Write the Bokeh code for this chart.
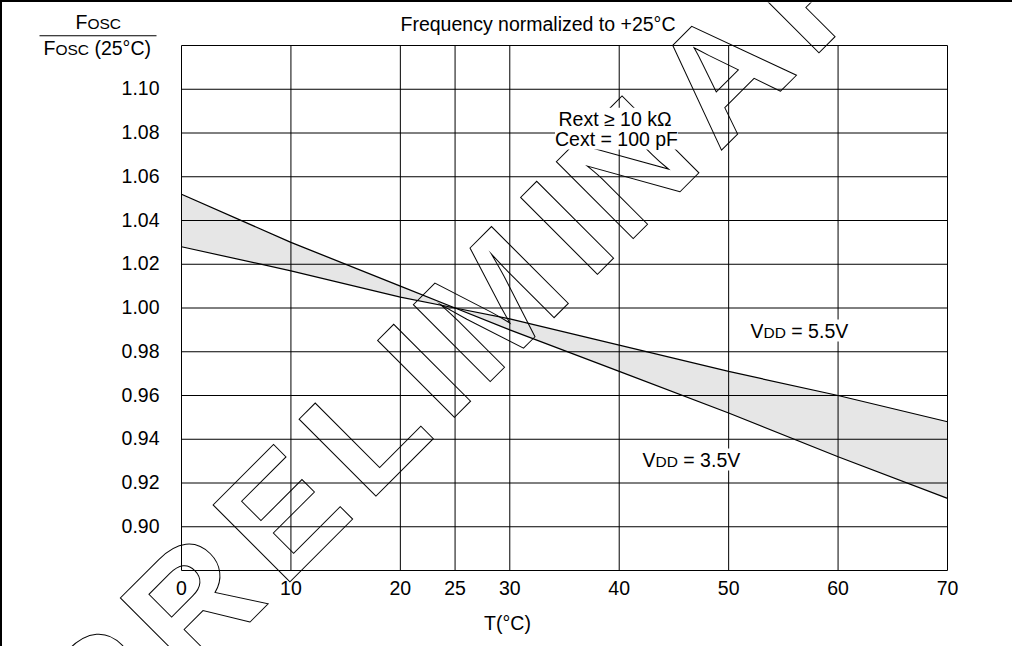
import math
from bokeh.plotting import figure
from bokeh.models import Range1d, Label, BoxAnnotation
from bokeh.core.properties import value
from bokeh.embed import file_html
from bokeh.resources import INLINE

# ---------------- data ----------------
temps = [0, 10, 20, 25, 30, 40, 50, 60, 70]
vdd35 = [1.052, 1.030, 1.010, 1.000, 0.990, 0.971, 0.952, 0.932, 0.913]
vdd55 = [1.028, 1.017, 1.005, 1.000, 0.995, 0.983, 0.971, 0.960, 0.948]
x_ticks = [0, 10, 20, 25, 30, 40, 50, 60, 70]
x_tick_labels = ["0", "10", "20", "25", "30", "40", "50", "60", "70"]
y_ticks = [0.90, 0.92, 0.94, 0.96, 0.98, 1.00, 1.02, 1.04, 1.06, 1.08, 1.10]
y_tick_labels = ["0.90", "0.92", "0.94", "0.96", "0.98", "1.00", "1.02", "1.04",
                 "1.06", "1.08", "1.10"]
y_grid = [0.88] + y_ticks + [1.12]
x_lim = [0, 70]
y_lim = [0.88, 1.12]
title_text = "Frequency normalized to +25°C"
x_label = "T(°C)"
cond_lines = ["Rext ≥ 10 kΩ", "Cext = 100 pF"]
watermark = "PRELIMINARY"

# ---------------- layout ----------------
W, H = 1012, 646
OX, OY = 10, 10                       # page position of the canvas (8px margin + 2px border)
FL, FT, FW, FH = 189, 53, 766, 525    # chart area in page pixels
XMIN, XMAX = x_lim
YMIN, YMAX = y_lim
FONT = "Liberation Sans"
FS = 19.5
BASE_FIX = 8                          # text baseline correction (px)


def dxp(px):
    return (px - FL) / FW * (XMAX - XMIN) + XMIN


def dyp(py):
    return YMAX - (py - FT) / FH * (YMAX - YMIN)


p = figure(width=W, height=H, output_backend="svg", toolbar_location=None, title=None,
           x_range=Range1d(dxp(OX), dxp(OX + W)), y_range=Range1d(dyp(OY + H), dyp(OY)),
           x_axis_location=None, y_axis_location=None, min_border=0)
p.styles = {"border-left": "2px solid black", "border-top": "2px solid black"}
p.outline_line_color = None
p.background_fill_color = "white"
p.border_fill_color = "white"
p.grid.visible = False

# band between the two curves
p.varea(x=temps, y1=vdd35, y2=vdd55, fill_color="#e6e6e6")

# grid + chart box
p.segment(x0=x_ticks, y0=[YMIN] * len(x_ticks), x1=x_ticks, y1=[YMAX] * len(x_ticks),
          line_color="black", line_width=1)
p.segment(x0=[XMIN] * len(y_grid), y0=y_grid, x1=[XMAX] * len(y_grid), y1=y_grid,
          line_color="black", line_width=1)

# curves
p.line(temps, vdd35, line_color="black", line_width=1.3)
p.line(temps, vdd55, line_color="black", line_width=1.2)

# tick labels
p.text(x=x_ticks, y=[YMIN] * len(x_ticks), text=x_tick_labels, y_offset=25 - BASE_FIX,
       text_align="center", text_baseline="alphabetic", text_font=value(FONT),
       text_font_size=value(f"{FS}px"), text_color="black")
p.text(x=[XMIN] * len(y_ticks), y=y_ticks, text=y_tick_labels, x_offset=-22, y_offset=7 - BASE_FIX,
       text_align="right", text_baseline="alphabetic", text_font=value(FONT),
       text_font_size=value(f"{FS}px"), text_color="black")

# watermark (outlined letters)
adv = {"P": .667, "R": .722, "E": .667, "L": .611, "I": .278, "M": .833,
       "N": .722, "A": .722, "Y": .667}
ang = 45.0
ddx, ddy = math.cos(math.radians(ang)), -math.sin(math.radians(ang))
sx, sy = 337, 472   # origin of the "L"
pitch = 182
t = -(adv["P"] + adv["R"] + adv["E"]) * pitch
for ch in watermark:
    p.add_layout(Label(x=dxp(sx + ddx * t), y=dyp(sy + ddy * t), text=ch,
                       angle=ang, angle_units="deg",
                       text_font=FONT, text_font_style="bold", text_font_size="158px",
                       text_color="rgba(0,0,0,0)", text_outline_color="black",
                       text_align="left", text_baseline="alphabetic"))
    t += adv[ch] * pitch

# helpers for the texts
cw = {"F": .611, "O": .778, "S": .667, "C": .722, "V": .667, "D": .722, " ": .278,
      "=": .584, "5": .556, ".": .278, "3": .556, "(": .333, ")": .333, "2": .556,
      "°": .4}


def put(parts, left, base, bg=True):
    x0 = left
    for txt, size in parts:
        lead = len(txt) - len(txt.lstrip(" "))
        x0 += lead * cw[" "] * size
        txt = txt.strip(" ")
        p.add_layout(Label(x=dxp(x0), y=dyp(base - BASE_FIX * size / FS), text=txt,
                           text_font=FONT, text_font_size=f"{size}px",
                           text_color="black", text_align="left", text_baseline="alphabetic",
                           background_fill_color="white" if bg else None))
        x0 += sum(cw.get(c, .556) for c in txt) * size


def centered(txt, cx, base, size=FS, bg=True):
    p.add_layout(Label(x=dxp(cx), y=dyp(base - BASE_FIX), text=txt,
                       text_font=FONT, text_font_size=f"{size}px",
                       text_color="black", text_align="center", text_baseline="alphabetic",
                       background_fill_color="white" if bg else None))


centered(title_text, 545.5, 39.3)
centered(cond_lines[0], 622.5, 134.3)
centered(cond_lines[1], 624, 154)
centered(x_label, 515, 638, bg=False)

put([("V", FS), ("DD", 15.5), (" = 5.5V", FS)], 758, 346)
put([("V", FS), ("DD", 15.5), (" = 3.5V", FS)], 650, 475)

# y label as a fraction
put([("F", FS), ("OSC", 15.5)], 83, 37.3, bg=False)
put([("F", FS), ("OSC", 15.5), (" (25°C)", FS)], 51, 63.3, bg=False)
p.add_layout(BoxAnnotation(left=dxp(47), right=dxp(164), top=dyp(42.8), bottom=dyp(43.8),
                           fill_color="black", fill_alpha=1, line_color=None))

open("out.html", "w").write(file_html(p, INLINE))
